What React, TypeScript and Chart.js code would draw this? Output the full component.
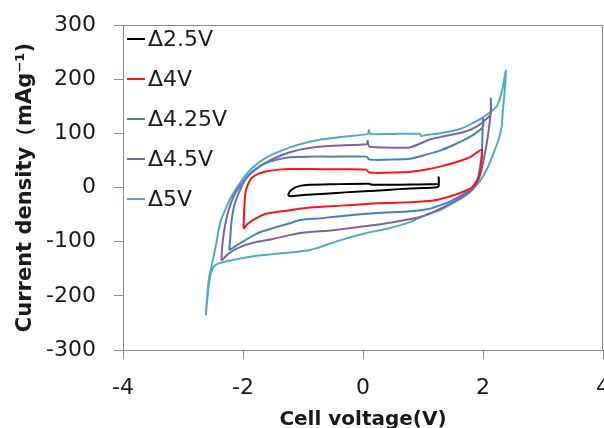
import React, { useEffect, useRef } from "react";
import { Chart, registerables } from "chart.js";

Chart.register(...registerables);

// Cyclic voltammograms, [cell voltage (V), current density (mA/g)], each loop
// starting at its negative vertex, running along the anodic branch to the
// positive vertex and back along the cathodic branch.
const loop2_5V: [number, number][] = [
  [-1.25, -15], [-1.22, -7], [-1.15, -1], [-1.05, 3], [-0.9, 5], [-0.5, 6], [0.1, 7],
  [0.15, 5], [0.4, 5], [0.8, 5.5], [1.1, 6], [1.26, 7], [1.26, 19], [1.26, 2],
  [1.2, 0], [1.0, -1], [0.6, -3], [0.2, -6], [-0.3, -9], [-0.7, -12], [-1.0, -14],
  [-1.2, -16], [-1.25, -15],
];

const loop4V: [number, number][] = [
  [-1.99, -76], [-1.985, -55], [-1.975, -30], [-1.96, -10], [-1.92, 5], [-1.86, 17],
  [-1.75, 25], [-1.6, 30], [-1.4, 33], [-1.2, 34], [-0.9, 34], [-0.5, 33.5], [0.05, 33],
  [0.1, 28], [0.2, 27], [0.5, 27.5], [0.8, 29], [1.1, 34], [1.3, 39], [1.56, 47],
  [1.8, 57], [1.98, 70], [1.97, 45], [1.95, 26], [1.9, 12], [1.85, 3], [1.75, -4],
  [1.6, -11], [1.4, -18], [1.17, -24], [0.8, -27], [0.23, -29], [-0.3, -33],
  [-0.88, -37], [-1.22, -42], [-1.6, -48], [-1.8, -58], [-1.93, -68], [-1.99, -76],
];

const loop4_25V: [number, number][] = [
  [-2.23, -116], [-2.21, -90], [-2.19, -61], [-2.15, -35], [-2.1, -18], [-2.03, 0],
  [-1.94, 19], [-1.8, 33], [-1.66, 43], [-1.45, 51], [-1.22, 56], [-0.9, 57],
  [-0.5, 57], [0.06, 57], [0.1, 52], [0.2, 51], [0.5, 51.5], [0.78, 53], [1.0, 59],
  [1.28, 68], [1.5, 78], [1.67, 87], [1.85, 98], [2.0, 112], [2.0, 128], [1.99, 95],
  [1.98, 62], [1.95, 38], [1.92, 19], [1.85, 5], [1.78, -5], [1.6, -17], [1.45, -26],
  [1.28, -33], [1.12, -39], [0.8, -44], [0.23, -47], [-0.3, -52], [-0.72, -57],
  [-1.05, -60], [-1.22, -66], [-1.5, -75], [-1.77, -85], [-2.05, -103], [-2.15, -110],
  [-2.23, -116],
];

const loop4_5V: [number, number][] = [
  [-2.36, -135], [-2.35, -115], [-2.33, -92], [-2.29, -65], [-2.24, -42], [-2.17, -20],
  [-2.1, -5], [-2.0, 10], [-1.88, 25], [-1.72, 39], [-1.55, 50], [-1.22, 65],
  [-0.9, 73], [-0.5, 77], [0.06, 80], [0.08, 86], [0.1, 76], [0.3, 74], [0.78, 74],
  [1.12, 89], [1.28, 93], [1.67, 102], [1.9, 113], [2.06, 127], [2.13, 136],
  [2.13, 164], [2.13, 142], [2.1, 110], [2.06, 80], [2.03, 62], [1.98, 35], [1.92, 13],
  [1.83, -2], [1.73, -12], [1.55, -24], [1.4, -33], [1.12, -48], [0.9, -56], [0.5, -64],
  [0.06, -71], [-0.5, -79], [-1.05, -84], [-1.5, -95], [-1.8, -101], [-2.05, -110],
  [-2.24, -122], [-2.36, -135],
];

const loop5V: [number, number][] = [
  [-2.62, -236], [-2.6, -205], [-2.57, -170], [-2.53, -148], [-2.48, -122],
  [-2.44, -100], [-2.4, -75], [-2.36, -58], [-2.3, -42], [-2.22, -22], [-2.1, 0],
  [-1.94, 25], [-1.75, 45], [-1.55, 59], [-1.22, 74], [-1.05, 80], [-0.72, 88],
  [-0.3, 94], [0.08, 99], [0.1, 106], [0.12, 99], [0.5, 99], [0.95, 99], [0.97, 95],
  [1.05, 97], [1.28, 100], [1.62, 108], [1.98, 128], [2.23, 150], [2.32, 180],
  [2.38, 216], [2.37, 190], [2.33, 140], [2.31, 111], [2.25, 85], [2.17, 62],
  [2.07, 35], [1.95, 12], [1.8, -7], [1.67, -18], [1.45, -32], [1.28, -42], [1.06, -50],
  [0.78, -64], [0.4, -76], [0.06, -84], [-0.4, -98], [-0.77, -112], [-0.9, -116],
  [-1.05, -118], [-1.22, -120], [-1.5, -123], [-1.77, -126], [-2.0, -130],
  [-2.27, -136], [-2.4, -140], [-2.48, -145], [-2.54, -160], [-2.58, -190],
  [-2.62, -236],
];

const seriesLabels = ["Δ2.5V", "Δ4V", "Δ4.25V", "Δ4.5V", "Δ5V"];
const seriesColors = ["#000000", "#ff1414", "#4a7ebb", "#7e62a6", "#4bacc6"];
const seriesLoops = [loop2_5V, loop4V, loop4_25V, loop4_5V, loop5V];

const xMin = -4;
const xMax = 4;
const xStep = 2;
const yMin = -300;
const yMax = 300;
const yStep = 100;

const xTitle = "Cell voltage(V)";
const yTitle = "Current density（mAg⁻¹)";

const AXIS_GRAY = "#8a8a8a";
const TEXT = "#1a1a1a";
const FONT = "'DejaVu Sans', sans-serif";

// Frame around the whole plot area (top and right edges included).
const plotFrame = {
  id: "plotFrame",
  beforeDatasetsDraw(chart: any) {
    const { ctx, chartArea } = chart;
    ctx.save();
    ctx.strokeStyle = AXIS_GRAY;
    ctx.lineWidth = 1;
    ctx.strokeRect(
      Math.round(chartArea.left) + 0.5,
      Math.round(chartArea.top) + 0.5,
      Math.round(chartArea.right - chartArea.left) - 1,
      Math.round(chartArea.bottom - chartArea.top)
    );
    ctx.restore();
  },
};

// Legend stacked in the upper-left corner of the plot area.
const cornerLegend = {
  id: "cornerLegend",
  afterDatasetsDraw(chart: any) {
    const { ctx, chartArea } = chart;
    ctx.save();
    ctx.font = `22px ${FONT}`;
    ctx.textBaseline = "middle";
    ctx.textAlign = "left";
    chart.data.datasets.forEach((ds: any, i: number) => {
      const y = chartArea.top + 14 + i * 40;
      const x = chartArea.left + 4;
      ctx.strokeStyle = ds.borderColor;
      ctx.lineWidth = 2;
      ctx.beginPath();
      ctx.moveTo(x, y);
      ctx.lineTo(x + 18, y);
      ctx.stroke();
      ctx.fillStyle = TEXT;
      ctx.fillText(ds.label, x + 21, y + 1);
    });
    ctx.restore();
  },
};

export default function App() {
  const canvasRef = useRef<HTMLCanvasElement | null>(null);

  useEffect(() => {
    if (!canvasRef.current) return;
    const chart = new Chart(canvasRef.current, {
      type: "scatter",
      data: {
        datasets: seriesLoops.map((loop, i) => ({
          label: seriesLabels[i],
          data: loop.map(([x, y]) => ({ x, y })),
          showLine: true,
          borderColor: seriesColors[i],
          backgroundColor: seriesColors[i],
          borderWidth: 2,
          pointRadius: 0,
          tension: 0.2,
          fill: false,
        })),
      },
      options: {
        animation: false,
        responsive: false,
        maintainAspectRatio: false,
        layout: { padding: { left: 0, right: 37, top: 25, bottom: 0 } },
        plugins: {
          legend: { display: false },
          tooltip: { enabled: false },
        },
        scales: {
          x: {
            type: "linear",
            min: xMin,
            max: xMax,
            afterFit: (scale: any) => {
              scale.height = 78;
              scale.paddingLeft = 0;
              scale.paddingRight = 0;
            },
            ticks: {
              stepSize: xStep,
              color: TEXT,
              font: { family: FONT, size: 22 },
              padding: 16,
              maxRotation: 0,
            },
            grid: {
              drawOnChartArea: false,
              drawTicks: true,
              tickLength: 9,
              color: AXIS_GRAY,
            },
            border: { display: true, color: AXIS_GRAY },
            title: {
              display: true,
              text: xTitle,
              color: TEXT,
              font: { family: FONT, size: 20, weight: "bold" },
              padding: { top: 0, bottom: -4 },
            },
          },
          y: {
            type: "linear",
            min: yMin,
            max: yMax,
            afterFit: (scale: any) => {
              scale.width = 123;
              scale.paddingTop = 0;
              scale.paddingBottom = 0;
            },
            ticks: {
              stepSize: yStep,
              color: TEXT,
              font: { family: FONT, size: 22 },
              padding: 18,
            },
            grid: {
              drawOnChartArea: false,
              drawTicks: true,
              tickLength: 9,
              color: AXIS_GRAY,
            },
            border: { display: true, color: AXIS_GRAY },
            title: {
              display: true,
              text: yTitle,
              color: TEXT,
              font: { family: FONT, size: 21, weight: "bold" },
              padding: { top: 13, bottom: 0 },
            },
          },
        },
      },
      plugins: [plotFrame, cornerLegend],
    });
    return () => chart.destroy();
  }, []);

  return (
    <div
      style={{
        position: "fixed",
        left: 0,
        top: 0,
        width: 604,
        height: 428,
        overflow: "hidden",
        background: "#ffffff",
      }}
    >
      <canvas ref={canvasRef} width={640} height={428} style={{ display: "block" }} />
    </div>
  );
}
